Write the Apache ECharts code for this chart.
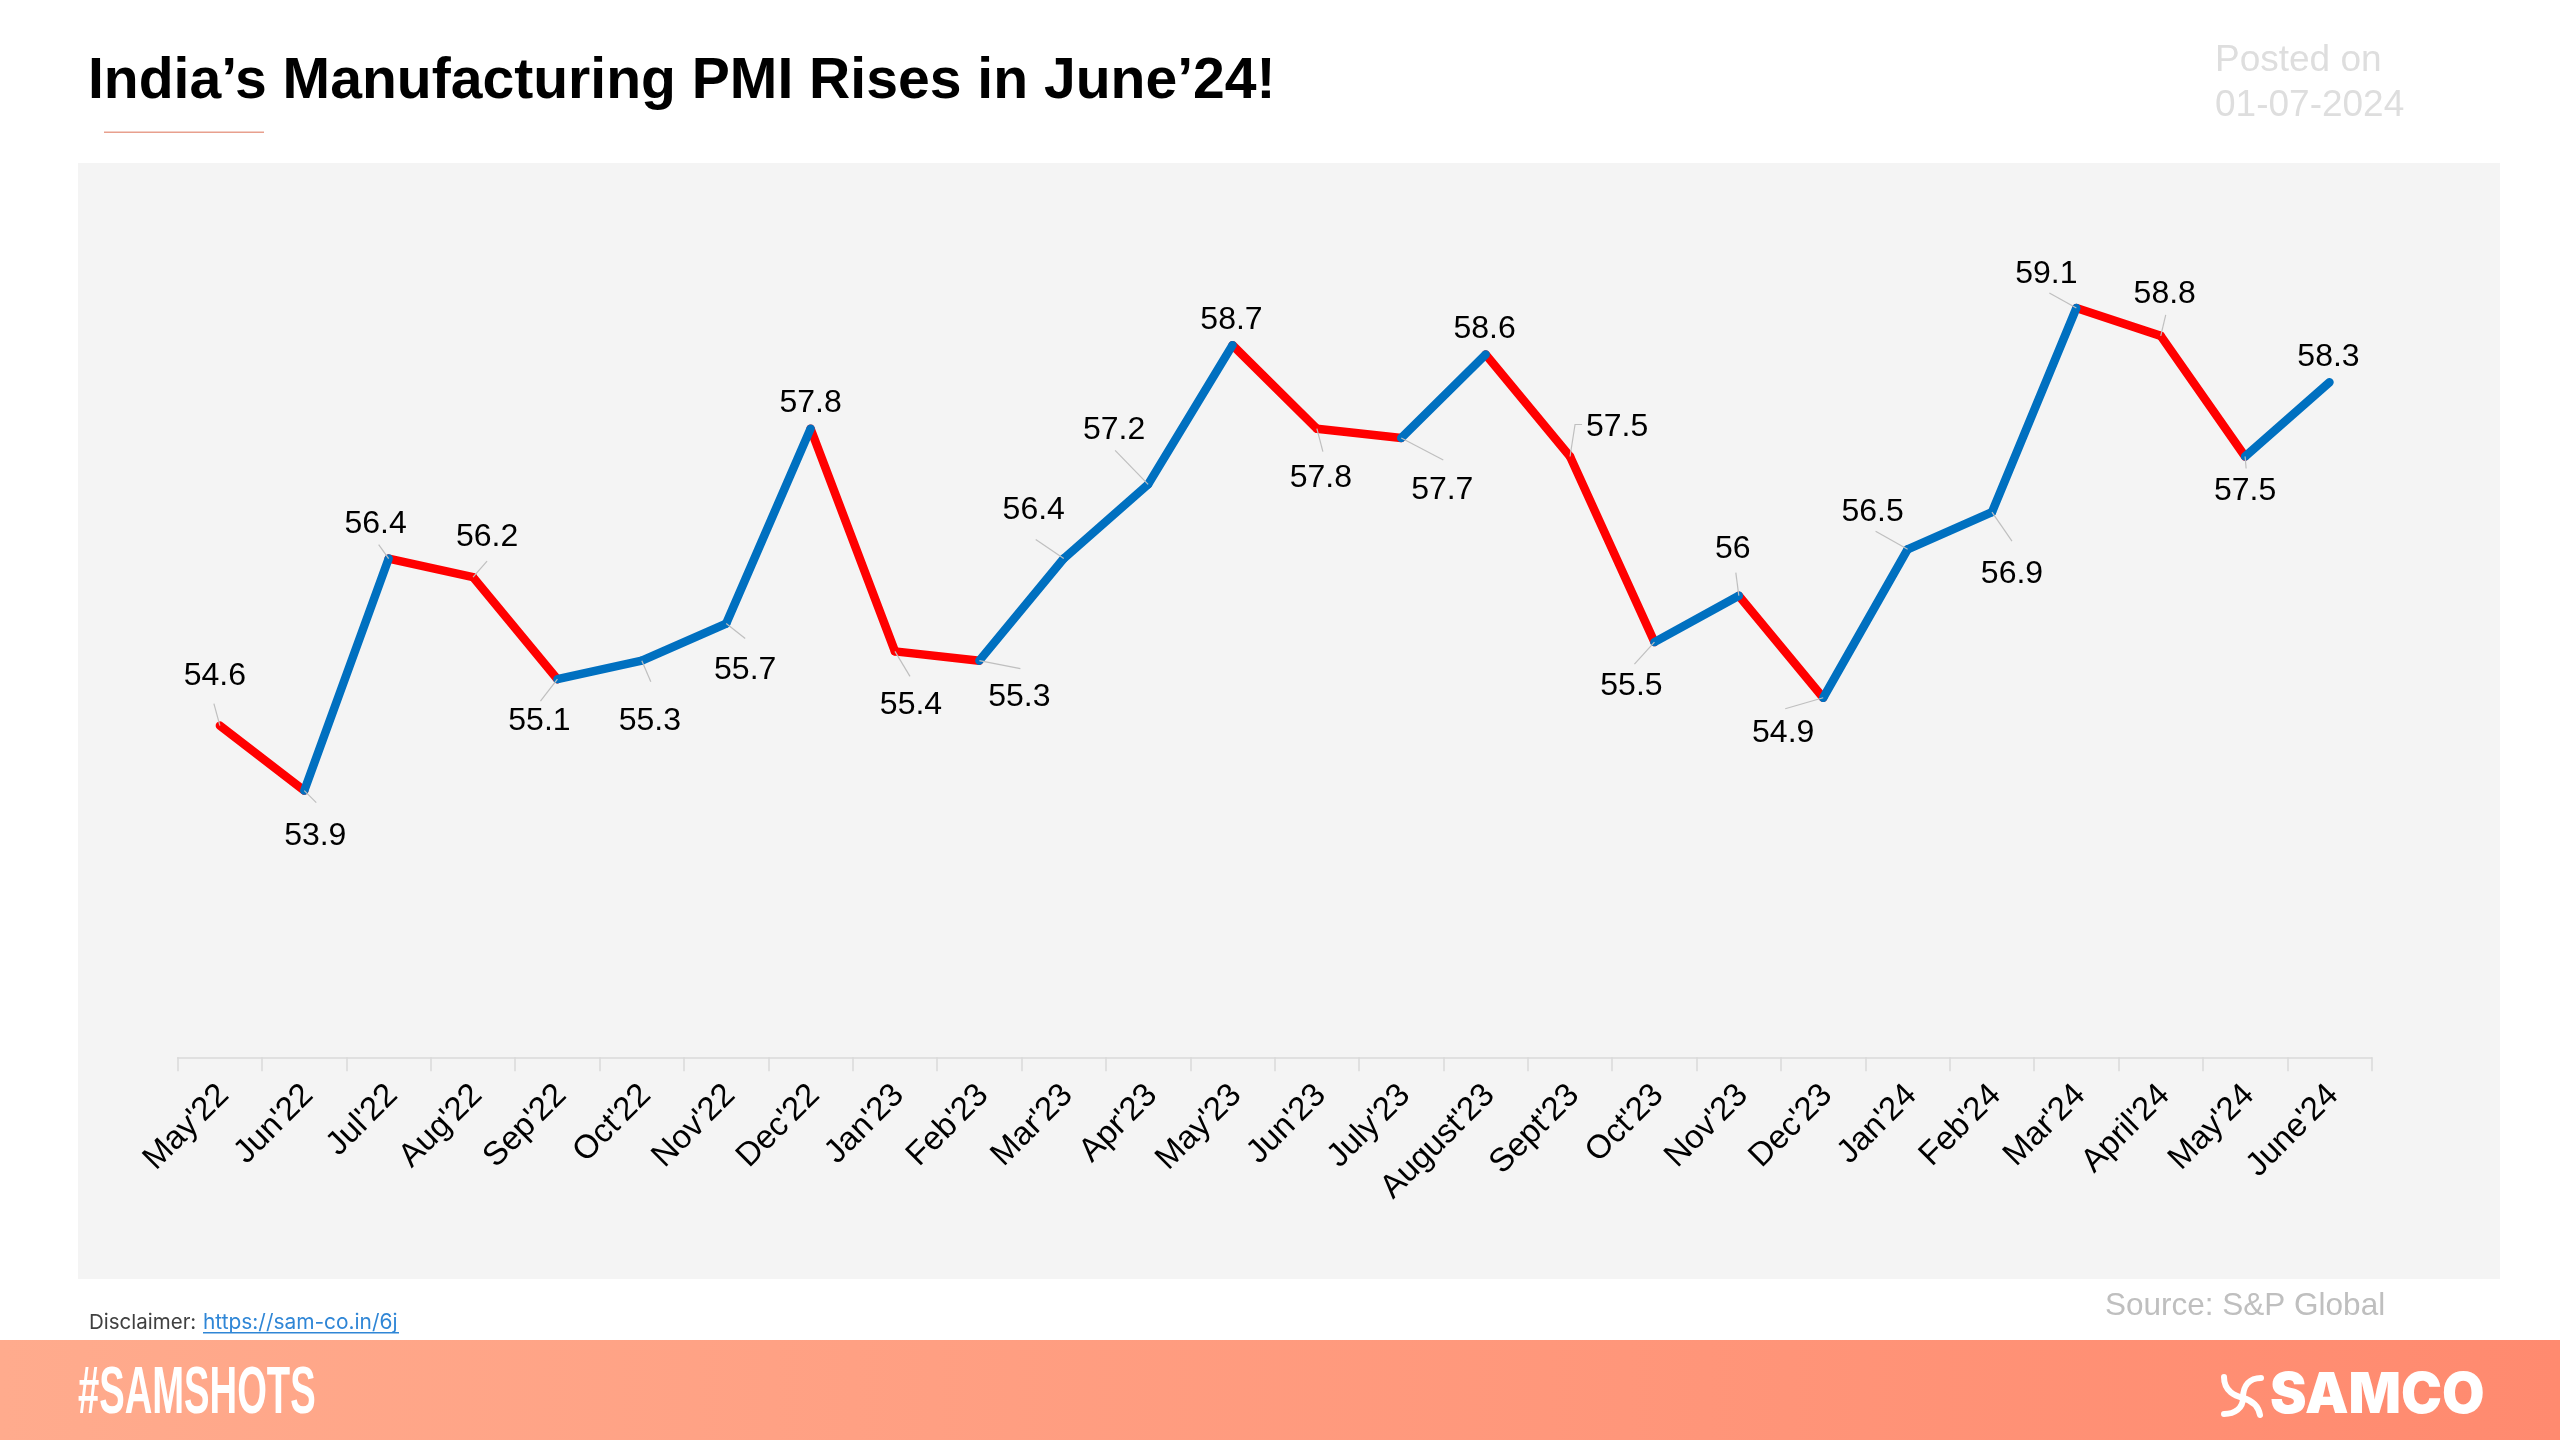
<!DOCTYPE html>
<html><head><meta charset="utf-8">
<style>html,body{margin:0;padding:0;background:#fff}#c{width:2560px;height:1440px}</style>
<script src="https://cdn.jsdelivr.net/npm/echarts@6/dist/echarts.min.js"></script>
</head><body><div id="c"></div>
<script>
const categories = ["May'22","Jun'22","Jul'22","Aug'22","Sep'22","Oct'22","Nov'22","Dec'22","Jan'23","Feb'23","Mar'23","Apr'23","May'23","Jun'23","July'23","August'23","Sept'23","Oct'23","Nov'23","Dec'23","Jan'24","Feb'24","Mar'24","April'24","May'24","June'24"];
const pmiValues = [54.6,53.9,56.4,56.2,55.1,55.3,55.7,57.8,55.4,55.3,56.4,57.2,58.7,57.8,57.7,58.6,57.5,55.5,56,54.9,56.5,56.9,59.1,58.8,57.5,58.3];
// label centre, offset in px from its point
const labelDx = [-5,11,-13,14,-18,8,19,0,16,40,-30,-34,-1,4,41,-1,47,-23,-6,-40,-35,20,-30,4,0,-1];
const labelDy = [-49,46,-34,-40,42,61,47,-25,54,37,-48,-54,-25,50,52,-25,-29,44,-47,35,-37,62,-34,-42,35,-25];
// leader line end, offset in px from its point
const leaderDx = [-6,12,-10,14,-17,9,19,0,15,41,-28,-33,0,6,42,0,12,-20,-3,-38,-32,20,-27,5,1,0];
const leaderDy = [-22,12,-14,-16,22,21,15,0,25,8,-19,-34,0,23,22,0,-32,22,-23,11,-18,29,-15,-21,12,0];

const RED='#FF0000', BLUE='#0070C0';
function segmentSeries(rising){
  const out=[];
  for(let i=0;i<pmiValues.length-1;i++){
    if((pmiValues[i+1]>pmiValues[i])!==rising) continue;
    out.push({type:'line',symbol:'none',silent:true,animation:false,connectNulls:false,z:3,
      lineStyle:{color:rising?BLUE:RED,width:8.5,cap:'round',join:'round'},
      data:pmiValues.map((v,k)=>(k===i||k===i+1)?v:null)});
  }
  return out;
}
const labelSeries={type:'custom',coordinateSystem:'cartesian2d',silent:true,animation:false,clip:false,z:4,
  encode:{x:0,y:1},data:pmiValues.map((v,i)=>[i,v]),
  renderItem(params,api){
    const i=api.value(0), p=api.coord([i,api.value(1)]);
    const ldx=leaderDx[i], ldy=leaderDy[i];
    const pts=[[p[0],p[1]]];
    if(i===16) pts.push([p[0]+5,p[1]+ldy]);
    pts.push([p[0]+ldx,p[1]+ldy]);
    const children=[];
    if(ldx||ldy) children.push({type:'polyline',shape:{points:pts},style:{stroke:'#BFBFBF',lineWidth:1.2,fill:null}});
    children.push({type:'text',style:{x:p[0]+labelDx[i],y:p[1]+labelDy[i],text:String(pmiValues[i]),
      align:'center',verticalAlign:'middle',fontFamily:'Liberation Sans',fontSize:32,fill:'#000'}});
    return {type:'group',children};
  }};
const logoStroke={stroke:'#fff',lineWidth:6,fill:null,lineCap:'round'};
const chart=echarts.init(document.getElementById('c'),null,{renderer:'canvas',width:2560,height:1440});
chart.setOption({
  animation:false,backgroundColor:'#fff',
  title:{text:'India’s Manufacturing PMI Rises in June’24!',left:88,top:54,padding:0,
    textStyle:{fontFamily:'Liberation Sans',fontWeight:'bold',fontSize:57.1,color:'#000'}},
  grid:{left:177.7,top:224.5,width:2194,height:835.2},
  xAxis:{type:'category',data:categories,boundaryGap:true,offset:-2.4,
    axisLine:{lineStyle:{color:'#D9D9D9',width:1.5}},
    axisTick:{show:true,length:14,lineStyle:{color:'#D9D9D9',width:1.5}},
    axisLabel:{interval:0,rotate:45,margin:29,verticalAlign:'top',lineHeight:11,fontFamily:'Liberation Sans',fontSize:33,color:'#000'}},
  yAxis:{type:'value',min:51,max:60,show:false,splitLine:{show:false}},
  graphic:[
    {type:'rect',z:-10,shape:{x:78,y:163,width:2422,height:1116},style:{fill:'#F4F4F4'}},
    {type:'rect',shape:{x:104,y:131.5,width:160,height:1.5},style:{fill:'#E8A08E'}},
    {type:'text',style:{x:2215,y:61,text:'Posted on',fontFamily:'Liberation Sans',fontSize:37,fill:'#DEDEDE',align:'left',verticalAlign:'middle'}},
    {type:'text',style:{x:2215,y:106,text:'01-07-2024',fontFamily:'Liberation Sans',fontSize:37,fill:'#DEDEDE',align:'left',verticalAlign:'middle'}},
    {type:'text',style:{x:2105,y:1306.5,text:'Source: S&P Global',fontFamily:'Liberation Sans',fontSize:31.5,fill:'#BFBFBF',align:'left',verticalAlign:'middle'}},
    {type:'text',style:{x:89,y:1323,text:'Disclaimer:',fontFamily:'Inter',fontSize:20.5,fill:'#404040',align:'left',verticalAlign:'middle'}},
    {type:'text',style:{x:203,y:1323,text:'https://sam-co.in/6j',fontFamily:'Inter',fontSize:20.9,fill:'#2F86D6',align:'left',verticalAlign:'middle'}},
    {type:'rect',shape:{x:203,y:1332,width:196,height:1.5},style:{fill:'#2F86D6'}},
    {type:'rect',shape:{x:0,y:1340,width:2560,height:100},style:{fill:new echarts.graphic.LinearGradient(0,0,1,0,[{offset:0,color:'#FFAB8D'},{offset:1,color:'#FF8A6F'}])}},
    {type:'text',x:78,y:1395,scaleX:0.57,style:{x:0,y:0,text:'#SAMSHOTS',fontFamily:'Liberation Sans',fontWeight:'bold',fontSize:67,fill:'#fff',align:'left',verticalAlign:'middle'}},
    {type:'text',x:2270,y:1396,scaleX:0.98,style:{x:0,y:0,text:'SAMCO',fontFamily:'Inter',fontWeight:900,fontSize:56,fill:'#fff',align:'left',verticalAlign:'middle'}},
    {type:'bezierCurve',shape:{x1:2224,y1:1377,cpx1:2224,cpy1:1392,cpx2:2236,cpy2:1396,x2:2243,y2:1398},style:logoStroke},
    {type:'bezierCurve',shape:{x1:2243,y1:1398,cpx1:2250,cpy1:1400,cpx2:2258,cpy2:1404,x2:2260,y2:1415},style:logoStroke},
    {type:'bezierCurve',shape:{x1:2261,y1:1378,cpx1:2250,cpy1:1378,cpx2:2243,cpy2:1385,x2:2243,y2:1398},style:logoStroke},
    {type:'bezierCurve',shape:{x1:2243,y1:1398,cpx1:2243,cpy1:1408,cpx2:2235,cpy2:1414,x2:2224,y2:1414},style:logoStroke}
  ],
  series:[...segmentSeries(false),...segmentSeries(true),labelSeries]
});
</script></body></html>
